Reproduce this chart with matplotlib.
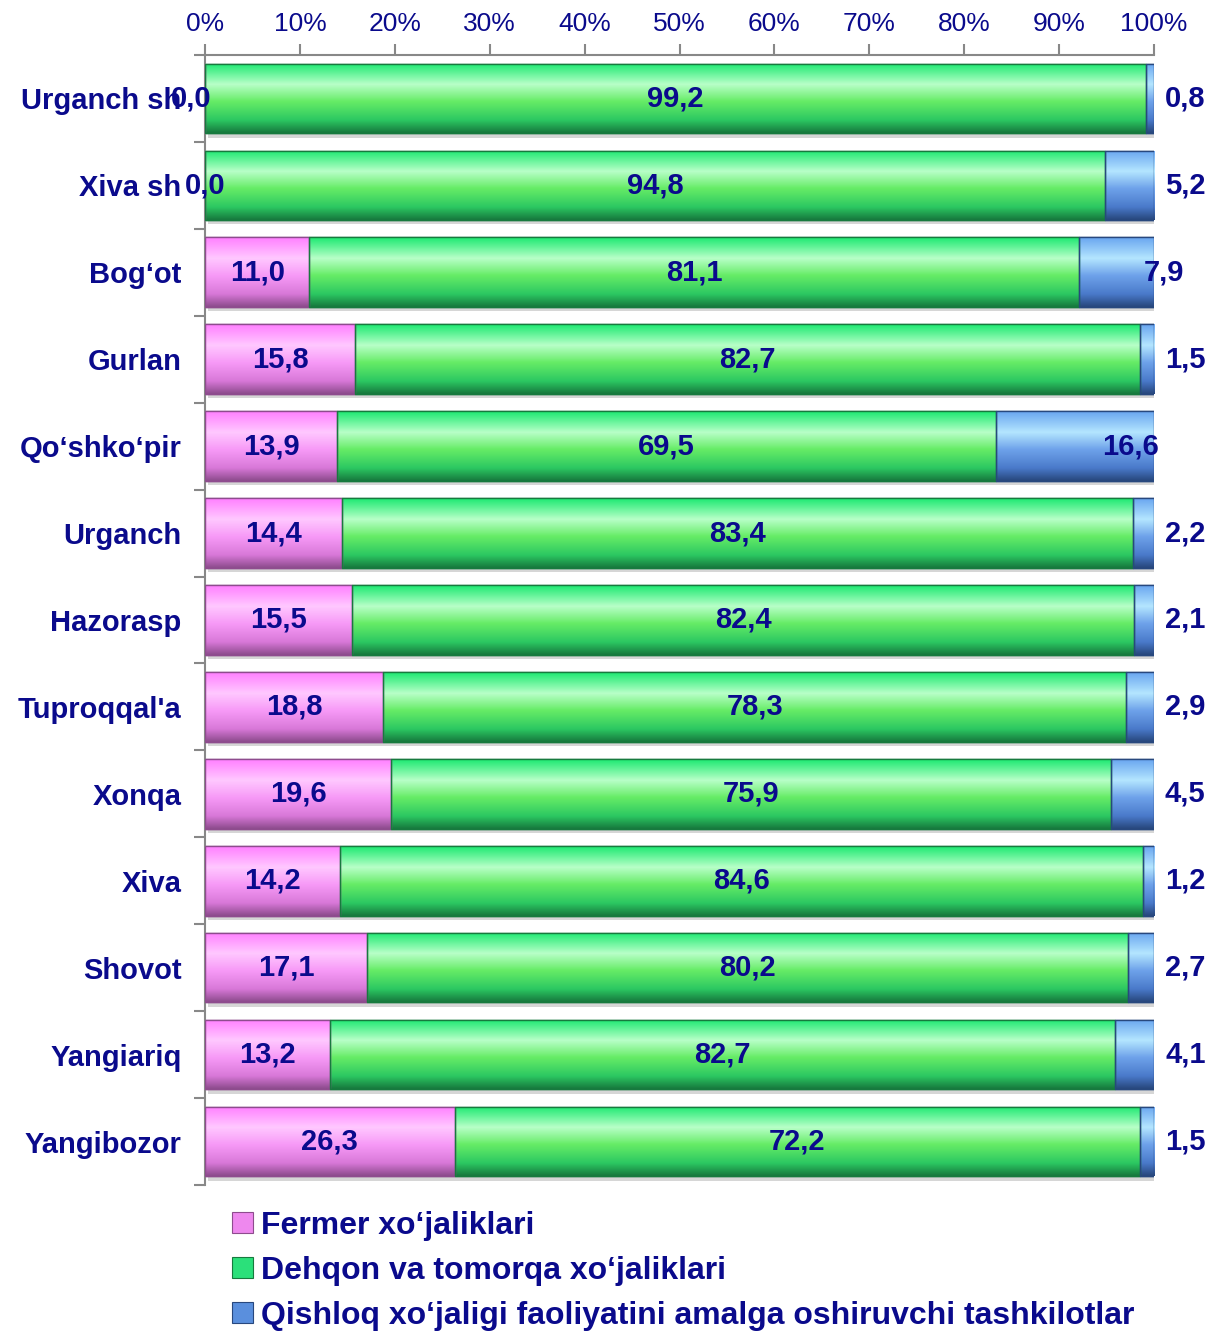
import matplotlib.pyplot as plt
from matplotlib.colors import LinearSegmentedColormap
from matplotlib.patches import Patch
import numpy as np

# Ma'lumotlar (foizlarda)
categories = ["Urganch sh", "Xiva sh", "Bog\u2018ot", "Gurlan", "Qo\u2018shko\u2018pir",
              "Urganch", "Hazorasp", "Tuproqqal'a", "Xonqa", "Xiva", "Shovot",
              "Yangiariq", "Yangibozor"]
fermer = [0.0, 0.0, 11.0, 15.8, 13.9, 14.4, 15.5, 18.8, 19.6, 14.2, 17.1, 13.2, 26.3]
dehqon = [99.2, 94.8, 81.1, 82.7, 69.5, 83.4, 82.4, 78.3, 75.9, 84.6, 80.2, 82.7, 72.2]
tashkilot = [0.8, 5.2, 7.9, 1.5, 16.6, 2.2, 2.1, 2.9, 4.5, 1.2, 2.7, 4.1, 1.5]
series_names = ["Fermer xo\u2018jaliklari", "Dehqon va tomorqa xo\u2018jaliklari",
                "Qishloq xo\u2018jaligi faoliyatini amalga oshiruvchi tashkilotlar"]

plt.rcParams['font.family'] = ['Liberation Sans', 'DejaVu Sans']
navy = '#0A0A8C'

fig = plt.figure(figsize=(12.16, 13.37), dpi=100)
ax = fig.add_axes([0.1686, 0.1137, 0.7804, 0.8452])

y = np.arange(len(categories))
h = 0.8
f = np.array(fermer)
d = np.array(dehqon)
t = np.array(tashkilot)

# gradient ranglar (yuqoridan pastga), asosiy rang va qirra rangi
gradients = [
    (['#FF80FF', '#FFC8FF', '#F79AF7', '#D878D8', '#8E4C8E'], '#EE88EE', '#8E4C8E'),
    (['#1EEA72', '#B8FFC8', '#66EC66', '#2CC862', '#177A3E'], '#2BE07A', '#177A3E'),
    (['#6AA6F0', '#B4E6FF', '#6EA2EA', '#4A7ACA', '#28487E'], '#5A8FDD', '#28487E'),
]
lefts = [np.zeros(len(y)), f, f + d]
vals = [f, d, t]
grad_img = np.linspace(0, 1, 64).reshape(-1, 1)

for (cols, base, dark), left, v in zip(gradients, lefts, vals):
    cmap = LinearSegmentedColormap.from_list('g', list(zip([0, 0.3, 0.55, 0.82, 1], cols)))
    # soya
    ax.barh(y + 0.05, v, left=left + 0.3, height=h, color='#D6D6D6', zorder=1)
    bars = ax.barh(y, v, left=left, height=h, color=base, edgecolor=dark,
                   linewidth=1.0, zorder=2)
    for r in bars:
        if r.get_width() <= 0:
            continue
        x0, y0, w, hh = r.get_x(), r.get_y(), r.get_width(), r.get_height()
        im = ax.imshow(grad_img, cmap=cmap, aspect='auto', origin='upper',
                       extent=(x0, x0 + w, y0 + hh, y0), zorder=2.5,
                       interpolation='bilinear')
        im.set_clip_path(r)
    ax.barh(y, v, left=left, height=h, color='none', edgecolor=dark,
            linewidth=1.0, zorder=3)

def fmt(v):
    return f"{v:.1f}".replace('.', ',')

for i in range(len(y)):
    fx = {0: -1.5}.get(i, f[i] / 2)
    ax.text(fx, y[i], fmt(f[i]), ha='center', va='center', color=navy,
            fontsize=21, fontweight='bold', zorder=5, clip_on=False)
    ax.text(f[i] + d[i] / 2, y[i], fmt(d[i]), ha='center', va='center',
            color=navy, fontsize=21, fontweight='bold', zorder=5)
    bx = {2: 101.0, 4: 97.5}.get(i, 103.3)
    ax.text(bx, y[i], fmt(t[i]), ha='center', va='center', color=navy,
            fontsize=21, fontweight='bold', zorder=5, clip_on=False)

ax.set_xlim(0, 100)
ax.set_ylim(len(y) - 0.5, -0.5)
ax.xaxis.tick_top()
ax.set_xticks(np.arange(0, 101, 10))
ax.set_xticklabels([f"{v}%" for v in range(0, 101, 10)])
ax.tick_params(axis='x', colors='#888888', labelcolor=navy, labelsize=19,
               length=8, width=1.5, pad=6)
ax.set_yticks(y)
ax.set_yticklabels(categories, fontsize=21, fontweight='bold', color=navy)
ax.tick_params(axis='y', length=0, pad=17)
ax.set_yticks(np.arange(-0.5, len(y), 1), minor=True)
ax.tick_params(axis='y', which='minor', length=8, width=1.5, color='#888888')
for s in ['right', 'bottom']:
    ax.spines[s].set_visible(False)
for s in ['left', 'top']:
    ax.spines[s].set_color('#888888')
    ax.spines[s].set_linewidth(1.5)

handles = [Patch(facecolor=g[1], edgecolor=g[2], linewidth=0.8) for g in gradients]
leg = fig.legend(handles, series_names, loc='upper left',
                 bbox_to_anchor=(232 / 1216, 1 - 1211 / 1337), frameon=False,
                 prop={'size': 23, 'weight': 'bold'}, handlelength=0.65,
                 handleheight=0.65, handletextpad=0.25, labelspacing=0.47,
                 borderpad=0, borderaxespad=0)
for txt in leg.get_texts():
    txt.set_color(navy)

fig.savefig('out.png', dpi=100)
